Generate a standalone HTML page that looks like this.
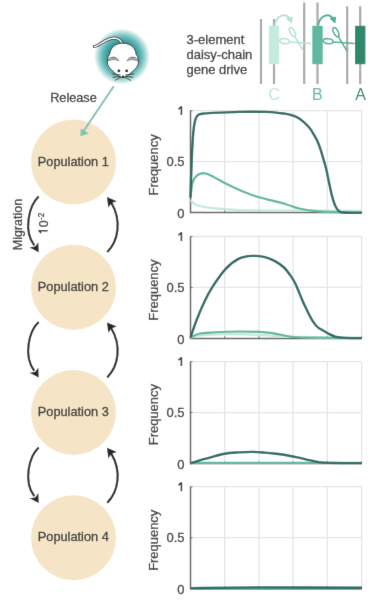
<!DOCTYPE html>
<html><head><meta charset="utf-8"><style>
html,body{margin:0;padding:0;background:#fff;width:378px;height:600px;overflow:hidden}
svg{display:block}
text{font-family:"Liberation Sans", sans-serif;stroke-width:0.3px}
</style></head><body>
<svg width="378" height="600" viewBox="0 0 378 600">
<defs><filter id="bl" x="0" y="0" width="378" height="600" filterUnits="userSpaceOnUse"><feConvolveMatrix order="3" kernelMatrix="0.00524 0.06192 0.00524 0.06192 0.73137 0.06192 0.00524 0.06192 0.00524" edgeMode="none"/></filter></defs>
<g filter="url(#bl)">
<rect width="378" height="600" fill="#fff"/>
<line x1="224.72" y1="110.6" x2="224.72" y2="212.5" stroke="#e5e5e5" stroke-width="1.3"/>
<line x1="258.94" y1="110.6" x2="258.94" y2="212.5" stroke="#e5e5e5" stroke-width="1.3"/>
<line x1="293.16" y1="110.6" x2="293.16" y2="212.5" stroke="#e5e5e5" stroke-width="1.3"/>
<line x1="327.38" y1="110.6" x2="327.38" y2="212.5" stroke="#e5e5e5" stroke-width="1.3"/>
<line x1="190.5" y1="161.55" x2="361.6" y2="161.55" stroke="#e5e5e5" stroke-width="1.3"/>
<line x1="190.5" y1="110.6" x2="361.6" y2="110.6" stroke="#e5e5e5" stroke-width="1.3"/>
<line x1="361.6" y1="110.6" x2="361.6" y2="212.5" stroke="#e5e5e5" stroke-width="1.3"/>
<path d="M190.5,110.6 V212.5 H361.6" fill="none" stroke="#626262" stroke-width="1.5"/>
<line x1="190.50" y1="212.5" x2="190.50" y2="210.5" stroke="#626262" stroke-width="1"/>
<line x1="224.72" y1="212.5" x2="224.72" y2="210.5" stroke="#626262" stroke-width="1"/>
<line x1="258.94" y1="212.5" x2="258.94" y2="210.5" stroke="#626262" stroke-width="1"/>
<line x1="293.16" y1="212.5" x2="293.16" y2="210.5" stroke="#626262" stroke-width="1"/>
<line x1="327.38" y1="212.5" x2="327.38" y2="210.5" stroke="#626262" stroke-width="1"/>
<line x1="361.60" y1="212.5" x2="361.60" y2="210.5" stroke="#626262" stroke-width="1"/>
<line x1="190.5" y1="110.60" x2="192.5" y2="110.60" stroke="#626262" stroke-width="1"/>
<line x1="190.5" y1="161.55" x2="192.5" y2="161.55" stroke="#626262" stroke-width="1"/>
<line x1="190.5" y1="212.50" x2="192.5" y2="212.50" stroke="#626262" stroke-width="1"/>
<path d="M178.3,109.00 C179.6,108.40 180.9,107.50 181.4,106.30 V115.10" fill="none" stroke="#3a3a3a" stroke-width="1.6"/>
<text x="184.5" y="166.05" text-anchor="end" font-size="13" fill="#3a3a3a" stroke="#3a3a3a">0.5</text>
<text x="184.5" y="218.30" text-anchor="end" font-size="13" fill="#3a3a3a" stroke="#3a3a3a">0</text>
<text transform="translate(158.3,164.95) rotate(-90)" text-anchor="middle" font-size="12.95" fill="#3a3a3a" stroke="#3a3a3a">Frequency</text>
<path d="M190.50,200.20 C191.52,201.00 192.93,203.67 196.60,205.00 C200.27,206.33 205.45,207.37 212.50,208.20 C219.55,209.03 226.65,209.60 238.90,210.00 C251.15,210.40 265.48,210.47 286.00,210.60 C306.52,210.73 349.33,210.77 362.00,210.80" fill="none" stroke="#c6e9dd" stroke-width="2.2" stroke-linecap="butt"/>
<path d="M190.50,197.60 C190.85,195.07 191.58,186.03 192.60,182.40 C193.62,178.77 194.83,177.33 196.60,175.80 C198.37,174.27 201.00,173.33 203.20,173.20 C205.40,173.07 206.05,173.28 209.80,175.00 C213.55,176.72 220.85,181.05 225.70,183.50 C230.55,185.95 234.50,187.78 238.90,189.70 C243.30,191.62 247.68,193.47 252.10,195.00 C256.52,196.53 259.75,197.37 265.40,198.90 C271.05,200.43 280.37,202.60 286.00,204.20 C291.63,205.80 293.82,207.30 299.20,208.50 C304.58,209.70 311.50,210.78 318.30,211.40 C325.10,212.02 332.72,212.05 340.00,212.20 C347.28,212.35 358.33,212.28 362.00,212.30" fill="none" stroke="#5fb7a2" stroke-width="2.2" stroke-linecap="butt"/>
<path d="M190.50,197.60 C190.72,190.98 191.32,168.92 191.80,157.90 C192.28,146.88 192.82,137.88 193.40,131.50 C193.98,125.12 194.55,122.33 195.30,119.60 C196.05,116.87 196.80,116.08 197.90,115.10 C199.00,114.12 199.47,114.07 201.90,113.70 C204.33,113.33 206.33,113.20 212.50,112.90 C218.67,112.60 230.08,112.07 238.90,111.90 C247.72,111.73 258.55,111.70 265.40,111.90 C272.25,112.10 275.97,112.65 280.00,113.10 C284.03,113.55 286.40,113.72 289.60,114.60 C292.80,115.48 296.00,116.33 299.20,118.40 C302.40,120.47 306.25,124.12 308.80,127.00 C311.35,129.88 312.92,132.98 314.50,135.70 C316.08,138.42 317.02,140.12 318.30,143.30 C319.58,146.48 320.92,150.63 322.20,154.80 C323.48,158.97 324.88,163.82 326.00,168.30 C327.12,172.78 327.93,177.23 328.90,181.70 C329.87,186.17 330.68,190.95 331.80,195.10 C332.92,199.25 334.33,203.88 335.60,206.60 C336.87,209.32 337.80,210.38 339.40,211.40 C341.00,212.42 341.43,212.45 345.20,212.70 C348.97,212.95 359.20,212.87 362.00,212.90" fill="none" stroke="#2b6b63" stroke-width="2.4" stroke-linecap="butt"/>
<line x1="224.72" y1="236.5" x2="224.72" y2="338.4" stroke="#e5e5e5" stroke-width="1.3"/>
<line x1="258.94" y1="236.5" x2="258.94" y2="338.4" stroke="#e5e5e5" stroke-width="1.3"/>
<line x1="293.16" y1="236.5" x2="293.16" y2="338.4" stroke="#e5e5e5" stroke-width="1.3"/>
<line x1="327.38" y1="236.5" x2="327.38" y2="338.4" stroke="#e5e5e5" stroke-width="1.3"/>
<line x1="190.5" y1="287.45" x2="361.6" y2="287.45" stroke="#e5e5e5" stroke-width="1.3"/>
<line x1="190.5" y1="236.5" x2="361.6" y2="236.5" stroke="#e5e5e5" stroke-width="1.3"/>
<line x1="361.6" y1="236.5" x2="361.6" y2="338.4" stroke="#e5e5e5" stroke-width="1.3"/>
<path d="M190.5,236.5 V338.4 H361.6" fill="none" stroke="#626262" stroke-width="1.5"/>
<line x1="190.50" y1="338.4" x2="190.50" y2="336.4" stroke="#626262" stroke-width="1"/>
<line x1="224.72" y1="338.4" x2="224.72" y2="336.4" stroke="#626262" stroke-width="1"/>
<line x1="258.94" y1="338.4" x2="258.94" y2="336.4" stroke="#626262" stroke-width="1"/>
<line x1="293.16" y1="338.4" x2="293.16" y2="336.4" stroke="#626262" stroke-width="1"/>
<line x1="327.38" y1="338.4" x2="327.38" y2="336.4" stroke="#626262" stroke-width="1"/>
<line x1="361.60" y1="338.4" x2="361.60" y2="336.4" stroke="#626262" stroke-width="1"/>
<line x1="190.5" y1="236.50" x2="192.5" y2="236.50" stroke="#626262" stroke-width="1"/>
<line x1="190.5" y1="287.45" x2="192.5" y2="287.45" stroke="#626262" stroke-width="1"/>
<line x1="190.5" y1="338.40" x2="192.5" y2="338.40" stroke="#626262" stroke-width="1"/>
<path d="M178.3,234.90 C179.6,234.30 180.9,233.40 181.4,232.20 V241.00" fill="none" stroke="#3a3a3a" stroke-width="1.6"/>
<text x="184.5" y="291.95" text-anchor="end" font-size="13" fill="#3a3a3a" stroke="#3a3a3a">0.5</text>
<text x="184.5" y="344.20" text-anchor="end" font-size="13" fill="#3a3a3a" stroke="#3a3a3a">0</text>
<text transform="translate(158.3,290.10) rotate(-90)" text-anchor="middle" font-size="12.95" fill="#3a3a3a" stroke="#3a3a3a">Frequency</text>
<path d="M190.50,338.00 C191.95,337.58 191.13,336.13 199.20,335.50 C207.27,334.87 224.43,334.07 238.90,334.20 C253.37,334.33 272.48,335.70 286.00,336.30 C299.52,336.90 307.33,337.52 320.00,337.80 C332.67,338.08 355.00,337.97 362.00,338.00" fill="none" stroke="#c6e9dd" stroke-width="2.2" stroke-linecap="butt"/>
<path d="M190.50,337.60 C191.95,336.97 195.53,334.65 199.20,333.80 C202.87,332.95 205.88,332.88 212.50,332.50 C219.12,332.12 230.08,331.53 238.90,331.50 C247.72,331.47 258.55,331.80 265.40,332.30 C272.25,332.80 275.33,333.72 280.00,334.50 C284.67,335.28 286.73,336.47 293.40,337.00 C300.07,337.53 308.57,337.57 320.00,337.70 C331.43,337.83 355.00,337.78 362.00,337.80" fill="none" stroke="#5fb7a2" stroke-width="2.2" stroke-linecap="butt"/>
<path d="M190.50,337.60 C191.52,334.67 194.27,326.03 196.60,320.00 C198.93,313.97 201.85,306.92 204.50,301.40 C207.15,295.88 208.97,292.32 212.50,286.90 C216.03,281.48 221.30,273.62 225.70,268.90 C230.10,264.18 234.50,260.77 238.90,258.60 C243.30,256.43 247.75,256.15 252.10,255.90 C256.45,255.65 261.27,256.27 265.00,257.10 C268.73,257.93 271.33,259.17 274.50,260.90 C277.67,262.63 281.35,265.08 284.00,267.50 C286.65,269.92 288.53,272.77 290.40,275.40 C292.27,278.03 293.62,280.13 295.20,283.30 C296.78,286.47 298.32,290.68 299.90,294.40 C301.48,298.12 302.67,301.30 304.70,305.60 C306.73,309.90 310.07,316.72 312.10,320.20 C314.13,323.68 315.17,324.83 316.90,326.50 C318.63,328.17 320.52,328.97 322.50,330.20 C324.48,331.43 326.68,332.83 328.80,333.90 C330.92,334.97 333.08,335.98 335.20,336.60 C337.32,337.22 339.03,337.35 341.50,337.60 C343.97,337.85 346.58,338.02 350.00,338.10 C353.42,338.18 360.00,338.10 362.00,338.10" fill="none" stroke="#2b6b63" stroke-width="2.4" stroke-linecap="butt"/>
<line x1="224.72" y1="361.6" x2="224.72" y2="463.5" stroke="#e5e5e5" stroke-width="1.3"/>
<line x1="258.94" y1="361.6" x2="258.94" y2="463.5" stroke="#e5e5e5" stroke-width="1.3"/>
<line x1="293.16" y1="361.6" x2="293.16" y2="463.5" stroke="#e5e5e5" stroke-width="1.3"/>
<line x1="327.38" y1="361.6" x2="327.38" y2="463.5" stroke="#e5e5e5" stroke-width="1.3"/>
<line x1="190.5" y1="412.55" x2="361.6" y2="412.55" stroke="#e5e5e5" stroke-width="1.3"/>
<line x1="190.5" y1="361.6" x2="361.6" y2="361.6" stroke="#e5e5e5" stroke-width="1.3"/>
<line x1="361.6" y1="361.6" x2="361.6" y2="463.5" stroke="#e5e5e5" stroke-width="1.3"/>
<path d="M190.5,361.6 V463.5 H361.6" fill="none" stroke="#626262" stroke-width="1.5"/>
<line x1="190.50" y1="463.5" x2="190.50" y2="461.5" stroke="#626262" stroke-width="1"/>
<line x1="224.72" y1="463.5" x2="224.72" y2="461.5" stroke="#626262" stroke-width="1"/>
<line x1="258.94" y1="463.5" x2="258.94" y2="461.5" stroke="#626262" stroke-width="1"/>
<line x1="293.16" y1="463.5" x2="293.16" y2="461.5" stroke="#626262" stroke-width="1"/>
<line x1="327.38" y1="463.5" x2="327.38" y2="461.5" stroke="#626262" stroke-width="1"/>
<line x1="361.60" y1="463.5" x2="361.60" y2="461.5" stroke="#626262" stroke-width="1"/>
<line x1="190.5" y1="361.60" x2="192.5" y2="361.60" stroke="#626262" stroke-width="1"/>
<line x1="190.5" y1="412.55" x2="192.5" y2="412.55" stroke="#626262" stroke-width="1"/>
<line x1="190.5" y1="463.50" x2="192.5" y2="463.50" stroke="#626262" stroke-width="1"/>
<path d="M178.3,360.00 C179.6,359.40 180.9,358.50 181.4,357.30 V366.10" fill="none" stroke="#3a3a3a" stroke-width="1.6"/>
<text x="184.5" y="417.05" text-anchor="end" font-size="13" fill="#3a3a3a" stroke="#3a3a3a">0.5</text>
<text x="184.5" y="469.30" text-anchor="end" font-size="13" fill="#3a3a3a" stroke="#3a3a3a">0</text>
<text transform="translate(158.3,414.65) rotate(-90)" text-anchor="middle" font-size="12.95" fill="#3a3a3a" stroke="#3a3a3a">Frequency</text>
<path d="M190.50,462.90 C219.08,462.90 333.42,462.90 362.00,462.90" fill="none" stroke="#5fb7a2" stroke-width="2.2" stroke-linecap="butt"/>
<path d="M190.30,463.30 C191.97,462.77 197.05,461.05 200.30,460.10 C203.55,459.15 205.83,458.65 209.80,457.60 C213.77,456.55 219.33,454.67 224.10,453.80 C228.87,452.93 233.63,452.72 238.40,452.40 C243.17,452.08 248.33,451.87 252.70,451.90 C257.07,451.93 260.72,452.28 264.60,452.60 C268.48,452.92 272.12,453.32 276.00,453.80 C279.88,454.28 283.93,454.82 287.90,455.50 C291.87,456.18 296.23,457.12 299.80,457.90 C303.37,458.68 306.12,459.50 309.30,460.20 C312.48,460.90 315.72,461.65 318.90,462.10 C322.08,462.55 321.22,462.73 328.40,462.90 C335.58,463.07 356.40,463.07 362.00,463.10" fill="none" stroke="#2b6b63" stroke-width="2.4" stroke-linecap="butt"/>
<line x1="224.72" y1="486.7" x2="224.72" y2="588.6" stroke="#e5e5e5" stroke-width="1.3"/>
<line x1="258.94" y1="486.7" x2="258.94" y2="588.6" stroke="#e5e5e5" stroke-width="1.3"/>
<line x1="293.16" y1="486.7" x2="293.16" y2="588.6" stroke="#e5e5e5" stroke-width="1.3"/>
<line x1="327.38" y1="486.7" x2="327.38" y2="588.6" stroke="#e5e5e5" stroke-width="1.3"/>
<line x1="190.5" y1="537.65" x2="361.6" y2="537.65" stroke="#e5e5e5" stroke-width="1.3"/>
<line x1="190.5" y1="486.7" x2="361.6" y2="486.7" stroke="#e5e5e5" stroke-width="1.3"/>
<line x1="361.6" y1="486.7" x2="361.6" y2="588.6" stroke="#e5e5e5" stroke-width="1.3"/>
<path d="M190.5,486.7 V588.6 H361.6" fill="none" stroke="#626262" stroke-width="1.5"/>
<line x1="190.50" y1="588.6" x2="190.50" y2="586.6" stroke="#626262" stroke-width="1"/>
<line x1="224.72" y1="588.6" x2="224.72" y2="586.6" stroke="#626262" stroke-width="1"/>
<line x1="258.94" y1="588.6" x2="258.94" y2="586.6" stroke="#626262" stroke-width="1"/>
<line x1="293.16" y1="588.6" x2="293.16" y2="586.6" stroke="#626262" stroke-width="1"/>
<line x1="327.38" y1="588.6" x2="327.38" y2="586.6" stroke="#626262" stroke-width="1"/>
<line x1="361.60" y1="588.6" x2="361.60" y2="586.6" stroke="#626262" stroke-width="1"/>
<line x1="190.5" y1="486.70" x2="192.5" y2="486.70" stroke="#626262" stroke-width="1"/>
<line x1="190.5" y1="537.65" x2="192.5" y2="537.65" stroke="#626262" stroke-width="1"/>
<line x1="190.5" y1="588.60" x2="192.5" y2="588.60" stroke="#626262" stroke-width="1"/>
<path d="M178.3,485.10 C179.6,484.50 180.9,483.60 181.4,482.40 V491.20" fill="none" stroke="#3a3a3a" stroke-width="1.6"/>
<text x="184.5" y="542.15" text-anchor="end" font-size="13" fill="#3a3a3a" stroke="#3a3a3a">0.5</text>
<text x="184.5" y="594.40" text-anchor="end" font-size="13" fill="#3a3a3a" stroke="#3a3a3a">0</text>
<text transform="translate(158.3,540.30) rotate(-90)" text-anchor="middle" font-size="12.95" fill="#3a3a3a" stroke="#3a3a3a">Frequency</text>
<path d="M190.50,588.90 C219.08,588.90 333.42,588.90 362.00,588.90" fill="none" stroke="#5fb7a2" stroke-width="2.2" stroke-linecap="butt"/>
<path d="M190.50,588.10 C201.58,587.98 228.42,587.45 257.00,587.40 C285.58,587.35 344.50,587.73 362.00,587.80" fill="none" stroke="#2b6b63" stroke-width="2.4" stroke-linecap="butt"/>
<circle cx="73.5" cy="162.10" r="42.5" fill="#f5e5c6"/>
<text x="73.3" y="165.80" text-anchor="middle" font-size="12.75" fill="#3a3a3a" stroke="#3a3a3a">Population 1</text>
<circle cx="73.5" cy="287.30" r="42.5" fill="#f5e5c6"/>
<text x="73.3" y="291.00" text-anchor="middle" font-size="12.75" fill="#3a3a3a" stroke="#3a3a3a">Population 2</text>
<circle cx="73.5" cy="412.50" r="42.5" fill="#f5e5c6"/>
<text x="73.3" y="416.20" text-anchor="middle" font-size="12.75" fill="#3a3a3a" stroke="#3a3a3a">Population 3</text>
<circle cx="73.5" cy="537.70" r="42.5" fill="#f5e5c6"/>
<text x="73.3" y="541.40" text-anchor="middle" font-size="12.75" fill="#3a3a3a" stroke="#3a3a3a">Population 4</text>
<path d="M38.70,196.60 C29.00,205.60 23.00,230.60 34.30,245.40" fill="none" stroke="#262626" stroke-width="2.1"/>
<path d="M38.70,252.20 L29.60,247.40 L35.00,246.60 L38.30,242.40 Z" fill="#262626"/>
<path d="M107.25,252.00 C118.50,240.60 121.80,220.60 111.30,202.80" fill="none" stroke="#262626" stroke-width="2.1"/>
<path d="M107.00,197.00 L116.80,201.20 L111.60,202.90 L108.30,207.40 Z" fill="#262626"/>
<path d="M38.70,322.00 C29.00,331.00 23.00,356.00 34.30,370.80" fill="none" stroke="#262626" stroke-width="2.1"/>
<path d="M38.70,377.60 L29.60,372.80 L35.00,372.00 L38.30,367.80 Z" fill="#262626"/>
<path d="M107.25,377.40 C118.50,366.00 121.80,346.00 111.30,328.20" fill="none" stroke="#262626" stroke-width="2.1"/>
<path d="M107.00,322.40 L116.80,326.60 L111.60,328.30 L108.30,332.80 Z" fill="#262626"/>
<path d="M38.70,447.40 C29.00,456.40 23.00,481.40 34.30,496.20" fill="none" stroke="#262626" stroke-width="2.1"/>
<path d="M38.70,503.00 L29.60,498.20 L35.00,497.40 L38.30,493.20 Z" fill="#262626"/>
<path d="M107.25,502.80 C118.50,491.40 121.80,471.40 111.30,453.60" fill="none" stroke="#262626" stroke-width="2.1"/>
<path d="M107.00,447.80 L116.80,452.00 L111.60,453.70 L108.30,458.20 Z" fill="#262626"/>
<text transform="translate(21.5,224.5) rotate(-90)" text-anchor="middle" font-size="12.5" fill="#3a3a3a" stroke="#3a3a3a">Migration</text>
<g transform="translate(47.6,233.6) rotate(-90)"><path d="M0.4,-6.6 C1.6,-7.1 2.5,-7.8 2.9,-9 V0" fill="none" stroke="#3a3a3a" stroke-width="1.5"/><text x="6.4" y="0" font-size="12.5" fill="#3a3a3a" stroke="#3a3a3a">0</text><text x="13.5" y="-3.4" font-size="8.2" fill="#3a3a3a" stroke="#3a3a3a">-2</text></g>
<text x="50.2" y="101.8" font-size="12.7" fill="#3a3a3a" stroke="#3a3a3a">Release</text>
<line x1="113.7" y1="86.3" x2="83" y2="132" stroke="#82c2b7" stroke-width="2"/>
<path d="M80.3,136.3 L80.8,128.5 L89,133.5 Z" fill="#82c2b7"/>
<defs><radialGradient id="glow" cx="0.5" cy="0.5" r="0.5"><stop offset="0" stop-color="#1f8f8f"/><stop offset="0.5" stop-color="#2f9999"/><stop offset="0.7" stop-color="#66b9b8"/><stop offset="0.85" stop-color="#addbda"/><stop offset="0.95" stop-color="#e4f3f3"/><stop offset="1" stop-color="#ffffff"/></radialGradient></defs>
<circle cx="122" cy="56.5" r="28" fill="url(#glow)"/>
<path d="M122.3,44 C121,40.5 118.5,38.2 114,38 C109,38.2 104.5,41 100.5,43.6 C98.5,45 96.5,46.6 94.2,46.6" fill="none" stroke="#333" stroke-width="3" stroke-linecap="round"/>
<path d="M122.3,44 C121,40.5 118.5,38.2 114,38 C109,38.2 104.5,41 100.5,43.6 C98.5,45 96.5,46.6 94.2,46.6" fill="none" stroke="#f4f4f4" stroke-width="1.3" stroke-linecap="round"/>
<path d="M122.90,43.20 C130.40,43.20 135.50,47.60 136.20,54.50 C138.30,56.30 138.80,60.80 138.20,64.20 C137.10,67.50 134.40,69.60 132.70,71.20 C129.10,74.60 125.90,77.40 122.90,77.60 C119.90,77.40 116.70,74.60 113.10,71.20 C111.40,69.60 108.70,67.50 107.60,64.20 C107.00,60.80 107.50,56.30 109.60,54.50 C110.30,47.60 115.40,43.20 122.90,43.20 Z" fill="#fff" stroke="#2e2e2e" stroke-width="0.9"/>
<path d="M127.30,61.20 C129.30,57.00 135.70,56.40 138.50,61.80 C135.30,59.80 129.90,59.60 127.30,61.20 Z" fill="#9c9c9c"/>
<path d="M126.90,61.20 C129.10,56.20 135.90,55.50 138.90,61.60" fill="none" stroke="#3a3a3a" stroke-width="0.85"/>
<path d="M118.50,61.20 C116.50,57.00 110.10,56.40 107.30,61.80 C110.50,59.80 115.90,59.60 118.50,61.20 Z" fill="#9c9c9c"/>
<path d="M118.90,61.20 C116.70,56.20 109.90,55.50 106.90,61.60" fill="none" stroke="#3a3a3a" stroke-width="0.85"/>
<circle cx="118.9" cy="70.9" r="1.4" fill="#111"/><circle cx="126.7" cy="70.9" r="1.4" fill="#111"/><circle cx="123" cy="76.8" r="1.25" fill="#111"/>
<path d="M120.5,75 L111.8,73.8 M120.5,76.2 L112.6,77.4 M121,77 L114.8,80.6 M125.3,75 L134,73.8 M125.3,76.2 L133.2,77.4 M124.8,77 L131,80.6" stroke="#1e1e1e" stroke-width="0.75"/>
<text font-size="13" fill="#3a3a3a" stroke="#3a3a3a"><tspan x="186.5" y="43.5">3-element</tspan><tspan x="186.5" y="58.8">daisy-chain</tspan><tspan x="186.5" y="74">gene drive</tspan></text>
<line x1="261" y1="19" x2="261" y2="84" stroke="#a9a9a9" stroke-width="2.2"/>
<line x1="274" y1="19" x2="274" y2="84" stroke="#a9a9a9" stroke-width="2.2"/>
<line x1="304.2" y1="2.5" x2="304.2" y2="84" stroke="#a9a9a9" stroke-width="2.2"/>
<line x1="317.5" y1="2.5" x2="317.5" y2="84" stroke="#a9a9a9" stroke-width="2.2"/>
<line x1="347.2" y1="6.3" x2="347.2" y2="84" stroke="#a9a9a9" stroke-width="2.2"/>
<line x1="360.2" y1="6.3" x2="360.2" y2="84" stroke="#a9a9a9" stroke-width="2.2"/>
<rect x="268.8" y="25.8" width="10.4" height="38.4" fill="#c7eade"/>
<rect x="312.3" y="25.8" width="10.4" height="38.4" fill="#5fb89f"/>
<rect x="355.0" y="25.8" width="10.4" height="38.4" fill="#2f886c"/>
<g transform="translate(0,0)" stroke="#b6e2d4" fill="none" stroke-width="1.55"><path d="M274.8,25.5 C276,15.5 285.5,11.5 290.3,19.8" stroke-width="1.8"/><path d="M286.5,18.5 L292,17 L291.5,23 Z" fill="#b6e2d4" stroke-width="1"/><ellipse cx="284.7" cy="41.2" rx="4.9" ry="2.5" transform="rotate(6 284.7 41.2)"/><ellipse cx="292.4" cy="32.1" rx="5" ry="2.2" transform="rotate(62 292.4 32.1)"/><path d="M289.5,41.9 L311,43.6 M294.8,36.6 L303.7,51.4"/></g>
<g transform="translate(43.5,0)" stroke="#4fae96" fill="none" stroke-width="1.55"><path d="M274.8,25.5 C276,15.5 285.5,11.5 290.3,19.8" stroke-width="1.8"/><path d="M286.5,18.5 L292,17 L291.5,23 Z" fill="#4fae96" stroke-width="1"/><ellipse cx="284.7" cy="41.2" rx="4.9" ry="2.5" transform="rotate(6 284.7 41.2)"/><ellipse cx="292.4" cy="32.1" rx="5" ry="2.2" transform="rotate(62 292.4 32.1)"/><path d="M289.5,41.9 L311,43.6 M294.8,36.6 L303.7,51.4"/></g>
<text x="274.2" y="99.5" text-anchor="middle" font-size="16" fill="#bde5d8" stroke="none">C</text>
<text x="317.4" y="99.5" text-anchor="middle" font-size="16" fill="#5fb89f" stroke="none">B</text>
<text x="360.5" y="99.5" text-anchor="middle" font-size="16" fill="#2f886c" stroke="none">A</text>
</g>
</svg>
</body></html>
